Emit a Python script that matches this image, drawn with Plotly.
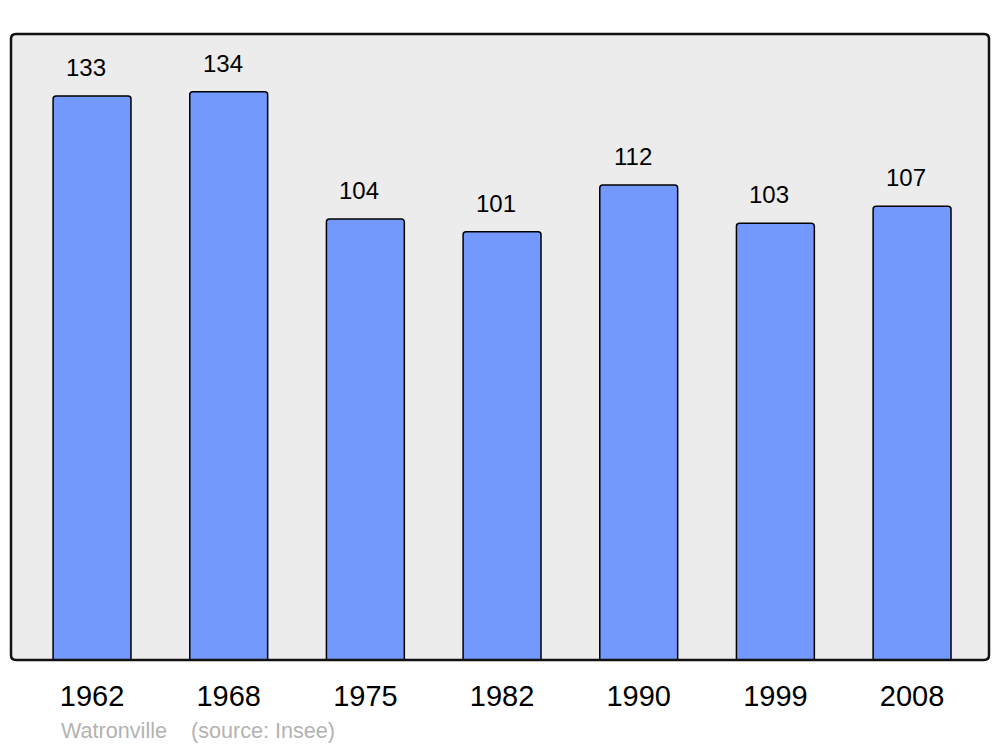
import plotly.graph_objects as go

years = ["1962", "1968", "1975", "1982", "1990", "1999", "2008"]
population = [133, 134, 104, 101, 112, 103, 107]
commune = "Watronville"
source = "(source: Insee)"

fig = go.Figure()
fig.add_trace(go.Bar(
    x=list(range(len(years))), y=population,
    width=0.57,
    marker=dict(color="#7399ff", line=dict(color="#000000", width=1.5), cornerradius=3),
    hoverinfo="skip",
))

for i, v in enumerate(population):
    fig.add_annotation(x=i, y=v, xref="x", yref="y", text=str(v), showarrow=False,
                       yanchor="bottom", yshift=13, xshift=-6,
                       font=dict(family="Liberation Sans, Arial, sans-serif", size=24, color="#000000"))

fig.add_annotation(x=(59 - 11) / 978, y=-0.112, xref="paper", yref="paper",
                   text=commune + "\u00a0\u00a0\u00a0\u00a0" + source, showarrow=False,
                   xanchor="left", yanchor="middle",
                   font=dict(family="Liberation Sans, Arial, sans-serif", size=21.6, color="#b3b3b3"))

# rounded plot border
rx = 5 / 978
ry = 5 / 626
path = (f"M {rx},0 L {1-rx},0 Q 1,0 1,{ry} L 1,{1-ry} Q 1,1 {1-rx},1 "
        f"L {rx},1 Q 0,1 0,{1-ry} L 0,{ry} Q 0,0 {rx},0 Z")
fig.add_shape(type="path", path=path, xref="paper", yref="paper",
              line=dict(color="#111111", width=2.5), layer="above")

fig.update_layout(
    width=1000, height=747,
    margin=dict(l=11, r=11, t=34, b=87),
    paper_bgcolor="#ffffff",
    plot_bgcolor="#ececec",
    showlegend=False,
    font=dict(family="Liberation Sans, Arial, sans-serif"),
    xaxis=dict(range=[-0.593, 6.563], tickmode="array",
               tickvals=list(range(len(years))), ticktext=years,
               showgrid=False, zeroline=False, showline=False, ticks="",
               ticklabelstandoff=16,
               tickfont=dict(size=29, color="#000000")),
    yaxis=dict(range=[0, 147.6], showgrid=False, zeroline=False,
               showline=False, showticklabels=False, ticks=""),
)

fig.write_html("out.html", config={"displayModeBar": False},
               post_script="document.body.style.margin='0';document.body.style.overflow='hidden';")
